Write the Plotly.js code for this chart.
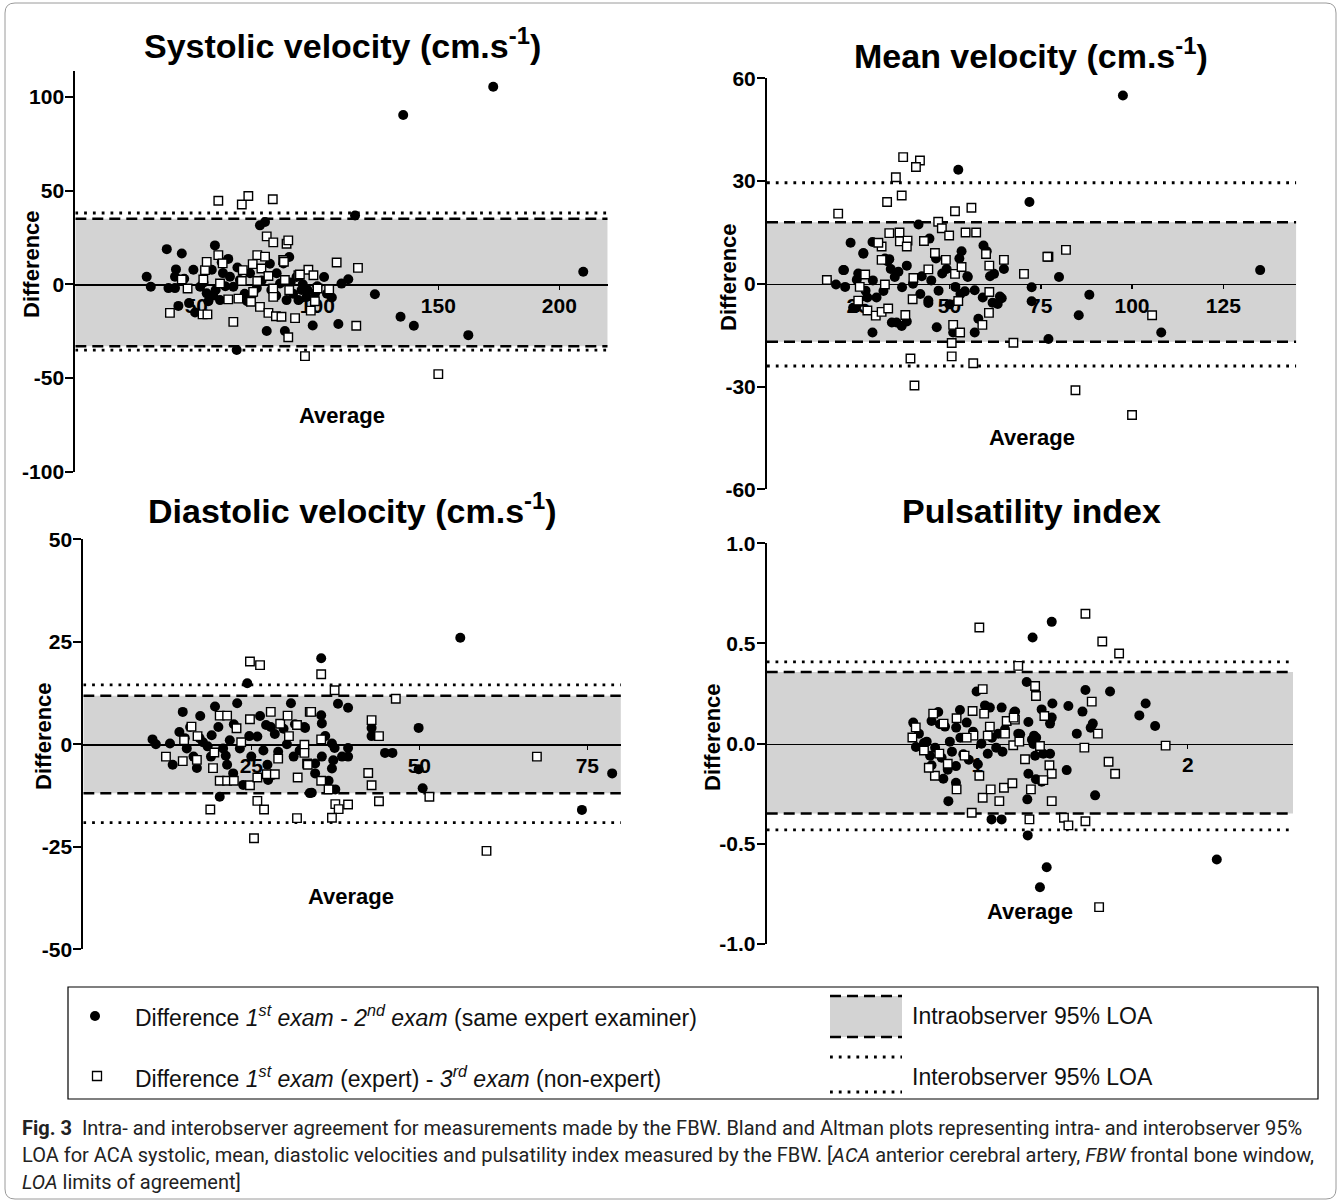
<!DOCTYPE html>
<html><head><meta charset="utf-8">
<script src="https://cdn.plot.ly/plotly-3.0.1.min.js"></script>
<style>html,body{margin:0;padding:0;background:#fff;}#chart{width:1340px;height:1202px;}</style>
</head><body><div id="chart"></div>
<script>
// ---------------- DATA ----------------
// Systolic velocity: [average, difference]
const sysSame = [[29.5,4.1],[31.2,-1.3],[37.8,18.8],[38.5,-2],[41.2,4.1],[41.2,-2],[41.6,8],[42.6,-11.5],[44,16.5],[48.8,7.8],[49.5,-15],[51.6,-1.3],[57.7,20.8],[54.3,-4.8],[56.4,7.8],[59.8,-8.4],[60.5,11.8],[63.2,13.6],[63.9,4.1],[66.7,-35],[65.3,-1.3],[68,2.3],[72.2,5.9],[73.5,-4.8],[76.3,31.5],[78.4,33.3],[79.1,-24.9],[80.4,11],[83.2,5.9],[84.6,0.5],[86,11.2],[86.6,-24.9],[87.3,-8.4],[88.4,14.6],[91.4,3.9],[92.2,-8.4],[93.5,-3],[95.6,-6.7],[98.1,-22],[99.1,-4.8],[102.8,3.9],[112.8,2.7],[110,0.4],[108.7,-21.2],[115.6,36.8],[123.8,-5.3],[134.4,-17.3],[139.9,-22.1],[162.4,-27.1],[135.5,90.4],[172.7,105.5],[209.9,6.7],[55,-9],[57,-6],[58,-3],[62,-1],[70,-5],[75,-2],[77,2],[81,-3],[83,-6],[89,1],[90,-5],[94,0],[96,-3],[100,-1],[104,-5],[106,-7],[47,-10],[45,3],[53,1],[61,6],[67,9],[71,-9]];
const sysOther = [[59.1,44.6],[68.8,42.6],[71.5,47.2],[81.6,45.4],[79.1,25.6],[81.8,22.4],[87.3,21.7],[88,23.5],[39.1,-15.2],[52.6,-16],[54.6,-16],[44,2.6],[46.4,-2.2],[52.9,2.6],[53.6,7.6],[54.3,12],[59.1,15.6],[60.9,11.2],[59.8,0.5],[63.2,-8],[65.3,-20],[67.4,-7.6],[68.8,1.8],[69.2,7.6],[72.6,-9.3],[73.3,10.8],[73.5,-4],[75.2,15.6],[75.2,1.8],[76.3,-12],[76.9,8.5],[78.4,14.8],[79.8,4.5],[79.8,-15.2],[81.8,-2.2],[81.8,-6.7],[82.9,-17],[85.2,-17.3],[85.9,13],[86.6,2.3],[88,-28.2],[88.4,-3.1],[90.8,-18],[92.2,4.9],[94.9,-38.3],[96.3,7.8],[97.3,-14],[98.4,4.9],[99,-9],[100.1,-2.2],[108,11.7],[116.8,8.8],[116.1,-22.1],[104.9,-2.7],[150,-47.9],[92.8,5.3],[86.2,12.1]];
const sysIntraLOA = [-33, 35];
const sysInterLOA = [-35.1, 38.1];

// Mean velocity
const meanSame = [[16.4,1.1],[18.9,-0.2],[21.1,4],[21.4,-0.9],[22.9,12],[24.6,1.2],[24.4,-7],[26.4,8.8],[28.9,-14.2],[28.9,12.2],[32.3,7.4],[33.5,7.2],[33.9,4.3],[34.2,-11.3],[35.5,-11.3],[36.9,-12.3],[38.3,-11],[38.3,5.3],[41.5,17.3],[44.5,13.2],[42.4,2.2],[44.2,-4.9],[46.5,-12.7],[46.3,7.4],[49.2,4.3],[51,-14.2],[52.4,33.3],[52.7,7.4],[53.3,9.5],[54.9,2.2],[56.9,-14.2],[57.9,-10.2],[59.3,11.2],[60.2,9.5],[61.1,2.2],[62.2,2.9],[63.8,-3.7],[63.2,-5.9],[64.9,4.3],[56.9,-1.9],[97.5,55],[71.9,23.9],[72.5,-1],[72.5,-5.1],[64.3,-4.2],[80,2],[88.3,-3.2],[85.4,-9.2],[77.1,-16.1],[108,-14.2],[135.1,4],[26.4,9],[20.9,4],[33,6.6],[23.6,-7],[31.9,-2.1],[44.2,-5.6],[55,2],[54.2,-2.2],[51.6,-0.9],[59.1,-4],[61.8,-5.5],[25,3],[27,-2],[29,1],[30,-4],[35,2],[37,-1],[40,0],[42,-3],[45,1],[47,-2],[48,3],[50,-6],[53,-3],[27.5,-4],[36,3.5]];
const meanOther = [[19.5,20.5],[37.3,37],[41.9,36],[40.8,34.1],[35.3,31.1],[36.9,25.8],[32.9,23.9],[33.5,14.8],[36.3,15],[36.4,12.4],[38.5,12.6],[38.3,10.9],[31.4,10.9],[30.5,12],[31.4,7],[46.9,18.1],[47.9,16.2],[49.9,14.1],[51.5,21.2],[56,22.2],[54.4,15],[57.3,15],[46,9],[49,7],[60.9,5.3],[60,8.7],[64.9,7],[25,-4.9],[27.5,-7.8],[29.8,-9.3],[31.4,-8.2],[33.2,-7.2],[37.9,-9.1],[39.3,-21.8],[40.4,-29.7],[39.9,-4.5],[50.6,-17.3],[50.6,-21.2],[51,-12],[52.9,-14.2],[56.5,-23.2],[59,-12],[60.8,-8.5],[60.9,-2.4],[52.4,-5],[51.5,2.9],[32.3,-0.2],[26.9,2.7],[25.4,-0.9],[67.5,-17.2],[70.4,2.9],[77.1,7.9],[81.9,9.9],[105.5,-9.2],[84.5,-31.1],[100,-38.3],[76.8,7.9],[44.2,4.2],[53.3,4.9],[40.1,1.7],[16.4,1.1],[43,12.5]];
const meanIntraLOA = [-16.9, 18.0];
const meanInterLOA = [-24, 29.5];

// Diastolic velocity
const diaSame = [[10.3,1.2],[10.8,0],[12.9,0.2],[13.3,-5],[14.3,3],[14.8,7.9],[15.1,1.5],[15.4,-1],[15.9,4.2],[16.4,-3],[16.9,-5.8],[17.4,6.9],[17.3,1.5],[18.5,-0.5],[19.1,2.2],[19.6,9.2],[20.1,4.2],[20.3,-12.8],[20.8,-1],[21.2,-2.8],[21.4,-5],[22.3,-7.1],[22.4,4.9],[22.9,10],[23.3,-1],[23.8,-9.9],[24.4,14.9],[25,-3],[25.9,1.9],[26.3,6.9],[27.2,4.7],[27.4,-5],[27.5,-8.7],[27.9,4.2],[28.2,-7.5],[29,-1.8],[29.8,3.8],[30.3,0],[30.9,10],[31.3,-3],[31.5,4.9],[32.2,-1.5],[32.9,4.2],[33.7,-11.9],[34.5,-4.7],[35.4,21],[56.1,26],[37.9,9.9],[39.4,8.9],[35.4,7.1],[35.5,5.1],[33,4],[36,2],[37,0.2],[37.4,-0.9],[39.4,-0.9],[39.4,-3],[38.5,-3],[37.2,-3.9],[37,-5.9],[35.5,-3],[34.5,-7.1],[36.5,-8.9],[37.5,-11],[34,-11.8],[42.9,4],[42.9,2],[44.9,-2.1],[46,-2.1],[49.9,4],[49.9,-6.1],[50.5,-10.7],[74.2,-16],[78.7,-7.1],[24.7,2],[26.8,-1.5],[28.5,2.5],[19,-3],[17.8,0.5],[21.8,1]];
const diaOther = [[12.3,-3],[14.8,-4.1],[16.1,4.3],[16.9,-3.8],[18.9,-15.9],[19.3,-5.8],[20.3,7],[21.4,7],[20.3,-8.9],[21.4,-8.9],[22.4,-8.9],[22.8,3.9],[24.8,20.2],[26.3,19.3],[24.8,6.1],[24.8,-10],[25.9,-13.8],[26.9,-15.9],[25.4,-22.9],[25.9,-8.1],[27.3,-7.3],[28.5,-7.3],[27.9,7.9],[29.3,5],[30.4,7],[30.6,2],[31.8,4.7],[31.9,-8.1],[32.9,-0.1],[32.9,-2.1],[33.3,-4.7],[33.7,7.9],[31.8,-18],[35.4,17.1],[37.4,13.2],[33.9,7.9],[33.4,-5],[35.4,1.2],[35.4,-8.9],[36.5,-11],[37.5,-14.6],[38,-15.8],[39.4,-14.7],[37,-17.9],[42.9,5.9],[44,2],[42.4,-7],[42.9,-10],[44,-13.9],[46.5,11.1],[51.5,-12.8],[67.5,-3],[60,-26],[15,1],[17,2],[19.5,-2],[23.5,0.5],[29,-3.5]];
const diaIntraLOA = [-11.95, 11.85];
const diaInterLOA = [-19.1, 14.5];

// Pulsatility index
const piSame = [[0.696,0.105],[0.709,-0.017],[0.723,0.05],[0.747,0.003],[0.776,-0.06],[0.783,-0.108],[0.783,0.113],[0.815,0.158],[0.823,0.097],[0.847,0.085],[0.839,-0.175],[0.831,-0.07],[0.863,-0.287],[0.899,-0.195],[0.899,-0.112],[0.918,0.168],[0.934,-0.053],[0.95,0.105],[0.997,0.26],[1.003,-0.103],[1.037,0.191],[1.06,0.18],[1.068,-0.378],[1.176,0.158],[1.195,0.05],[1.354,0.608],[1.263,0.53],[1.235,0.308],[1.116,0.18],[1.18,0.16],[1.132,0.072],[1.243,0.108],[1.204,0.047],[1.267,-0.002],[1.275,-0.06],[1.314,-0.05],[1.346,-0.05],[1.306,0.171],[1.357,0.2],[1.354,0.13],[1.346,0.1],[1.243,-0.15],[1.279,-0.178],[1.306,-0.19],[1.238,-0.278],[1.425,-0.132],[1.473,0.05],[1.5,0.16],[1.514,0.268],[1.539,0.079],[1.549,0.1],[1.56,-0.258],[1.77,0.141],[1.8,0.2],[1.845,0.088],[1.24,-0.458],[1.33,-0.617],[1.298,-0.717],[2.138,-0.578],[1.116,-0.378],[1.433,0.188],[1.631,0.26],[1.27,0.04],[0.76,0.01],[0.8,-0.02],[0.87,0.01],[0.88,-0.04],[0.92,0.03],[0.96,-0.08],[0.98,0.06],[1.02,0],[1.05,-0.05],[1.07,0.03],[1.09,-0.02],[1.1,0.05],[1.12,-0.04],[1.26,0.02],[1.28,0.03],[0.86,-0.13],[0.9,0.08]];
const piOther = [[0.692,0.031],[0.708,0.081],[0.747,-0.034],[0.791,0.15],[0.799,-0.16],[0.902,0.127],[0.902,-0.228],[0.974,-0.345],[0.978,0.163],[0.982,0.04],[1.01,0.58],[1.026,0.272],[1.01,-0.16],[1.026,-0.27],[1.033,0.15],[1.064,-0.228],[1.06,0.085],[1.105,-0.287],[1.127,-0.22],[1.14,0.113],[1.167,-0.198],[1.171,-0.008],[1.179,0.12],[1.195,0.388],[1.275,0.288],[1.279,0.238],[1.319,0.138],[1.173,0.13],[1.132,0.05],[1.227,-0.078],[1.298,-0.012],[1.343,-0.108],[1.354,-0.15],[1.314,-0.182],[1.255,-0.228],[1.354,-0.287],[1.248,-0.378],[1.412,-0.37],[1.433,-0.408],[1.514,-0.387],[1.509,-0.02],[1.544,0.21],[1.573,0.05],[1.624,-0.09],[1.655,-0.15],[1.514,0.648],[1.594,0.51],[1.674,0.45],[1.895,-0.01],[1.579,-0.816],[0.82,-0.05],[0.86,-0.1],[0.94,-0.06],[0.95,0.03],[1.05,0.04],[0.84,0.1],[0.77,-0.12],[1.2,0.01]];
const piIntraLOA = [-0.349, 0.358];
const piInterLOA = [-0.43, 0.408];

// Tick values / labels
const sysXTicks = [50, 100, 150, 200];
const sysYTicks = [-100, -50, 0, 50, 100];
const sysYLabels = ['-100', '-50', '0', '50', '100'];
const meanXTicks = [25, 50, 75, 100, 125];
const meanYTicks = [-60, -30, 0, 30, 60];
const meanYLabels = ['-60', '-30', '0', '30', '60'];
const diaXTicks = [25, 50, 75];
const diaYTicks = [-50, -25, 0, 25, 50];
const diaYLabels = ['-50', '-25', '0', '25', '50'];
const piXTicks = [1, 2];
const piYTicks = [-1, -0.5, 0, 0.5, 1];
const piYLabels = ['-1.0', '-0.5', '0.0', '0.5', '1.0'];

const titles = ['Systolic velocity (cm.s<sup>-1</sup>)', 'Mean velocity (cm.s<sup>-1</sup>)', 'Diastolic velocity (cm.s<sup>-1</sup>)', 'Pulsatility index'];
const yTitle = 'Difference';
const xTitle = 'Average';
const legendSame = 'Difference <i>1<sup>st</sup> exam</i> - <i>2<sup>nd</sup> exam</i> (same expert examiner)';
const legendOther = 'Difference <i>1<sup>st</sup> exam</i> (expert) - <i>3<sup>rd</sup> exam</i> (non-expert)';
const legendIntra = 'Intraobserver 95% LOA';
const legendInter = 'Interobserver 95% LOA';
const caption = [
  '<b>Fig. 3</b>  Intra- and interobserver agreement for measurements made by the FBW. Bland and Altman plots representing intra- and interobserver 95%',
  'LOA for ACA systolic, mean, diastolic velocities and pulsatility index measured by the FBW. [<i>ACA</i> anterior cerebral artery, <i>FBW</i> frontal bone window,',
  '<i>LOA</i> limits of agreement]'
];

// ---------------- LAYOUT ----------------
const W = 1340, H = 1202;
const FONT = '"Liberation Sans", Arial, Helvetica, sans-serif';
const fx = p => p / W, fy = p => 1 - p / H;

const panels = [
  {same: sysSame, other: sysOther, intra: sysIntraLOA, inter: sysInterLOA, xt: sysXTicks, yt: sysYTicks, yl: sysYLabels,
   xd: [75.3, 607.7], yd: [471.7, 70.8], xr: [0, 220], yr: [-100, 114],
   title: [342, 44], ytitle: [31, 264], xtitle: [342, 415]},
  {same: meanSame, other: meanOther, intra: meanIntraLOA, inter: meanInterLOA, xt: meanXTicks, yt: meanYTicks, yl: meanYLabels,
   xd: [767, 1296.3], yd: [489.3, 78.3], xr: [0, 145], yr: [-60, 60],
   title: [1031, 54], ytitle: [728, 277], xtitle: [1032, 437]},
  {same: diaSame, other: diaOther, intra: diaIntraLOA, inter: diaInterLOA, xt: diaXTicks, yt: diaYTicks, yl: diaYLabels,
   xd: [83.3, 620.9], yd: [949.3, 539.3], xr: [0, 80], yr: [-50, 50],
   title: [352, 508], ytitle: [43, 736], xtitle: [351, 896]},
  {same: piSame, other: piOther, intra: piIntraLOA, inter: piInterLOA, xt: piXTicks, yt: piYTicks, yl: piYLabels,
   xd: [766.7, 1293], yd: [944, 543.3], xr: [0, 2.5], yr: [-1, 1],
   title: [1031, 511], ytitle: [712, 737], xtitle: [1030, 911]}
];

const traces = [], shapes = [], annotations = [];
const layout = {
  width: W, height: H, margin: {l: 0, r: 0, t: 0, b: 0},
  paper_bgcolor: '#fff', plot_bgcolor: 'rgba(0,0,0,0)', showlegend: false,
  font: {family: FONT, color: '#000'}
};
const tickFont = {family: FONT, size: 21, color: '#000', weight: 'bold'};

panels.forEach((p, i) => {
  const n = i === 0 ? '' : String(i + 1);
  const xa = 'x' + n, ya = 'y' + n;
  const yDom = [fy(p.yd[0]), fy(p.yd[1])];
  const zeroPos = yDom[0] + (0 - p.yr[0]) / (p.yr[1] - p.yr[0]) * (yDom[1] - yDom[0]);
  layout['xaxis' + n] = {
    domain: [fx(p.xd[0]), fx(p.xd[1])], range: p.xr, anchor: 'free', position: zeroPos,
    showline: true, linecolor: '#000', linewidth: 1.5, ticks: 'outside', ticklen: 4, tickwidth: 1.5, tickcolor: '#000',
    tickmode: 'array', tickvals: p.xt, ticktext: p.xt.map(String), tickfont: tickFont, ticklabelstandoff: -2,
    showgrid: false, zeroline: false, fixedrange: true, layer: 'below traces'
  };
  layout['yaxis' + n] = {
    domain: yDom, range: p.yr, anchor: xa,
    showline: true, linecolor: '#000', linewidth: 2, ticks: 'outside', ticklen: 8, tickwidth: 2, tickcolor: '#000',
    tickmode: 'array', tickvals: p.yt, ticktext: p.yl, tickfont: tickFont, ticklabelstandoff: -3,
    showgrid: false, zeroline: false, fixedrange: true
  };
  // grey intraobserver band
  shapes.push({type: 'rect', xref: xa, yref: ya, x0: p.xr[0], x1: p.xr[1], y0: p.intra[0], y1: p.intra[1],
    fillcolor: '#d3d3d3', line: {width: 0}, layer: 'below'});
  p.intra.forEach(v => shapes.push({type: 'line', xref: xa, yref: ya, x0: p.xr[0], x1: p.xr[1], y0: v, y1: v,
    line: {color: '#000', width: 2.5, dash: '11px,6px'}, layer: 'below'}));
  p.inter.forEach(v => shapes.push({type: 'line', xref: xa, yref: ya, x0: p.xr[0], x1: p.xr[1], y0: v, y1: v,
    line: {color: '#000', width: 2.8, dash: '2.8px,6px'}, layer: 'below'}));
  traces.push({type: 'scatter', mode: 'markers', xaxis: xa, yaxis: ya, name: 'same',
    x: p.same.map(d => d[0]), y: p.same.map(d => d[1]),
    marker: {symbol: 'circle', size: 10, color: '#000', line: {width: 0}}, hoverinfo: 'x+y'});
  traces.push({type: 'scatter', mode: 'markers', xaxis: xa, yaxis: ya, name: 'other',
    x: p.other.map(d => d[0]), y: p.other.map(d => d[1]),
    marker: {symbol: 'square', size: 8.5, color: '#fff', line: {width: 1.4, color: '#000'}}, hoverinfo: 'x+y'});
  annotations.push({xref: 'paper', yref: 'paper', x: fx(p.title[0]), y: fy(p.title[1]), xanchor: 'center', yanchor: 'middle',
    text: '<b>' + titles[i] + '</b>', showarrow: false, font: {family: FONT, size: 34, color: '#000'}});
  annotations.push({xref: 'paper', yref: 'paper', x: fx(p.ytitle[0]), y: fy(p.ytitle[1]), xanchor: 'center', yanchor: 'middle',
    text: '<b>' + yTitle + '</b>', textangle: -90, showarrow: false, font: {family: FONT, size: 22, color: '#000'}});
  annotations.push({xref: 'paper', yref: 'paper', x: fx(p.xtitle[0]), y: fy(p.xtitle[1]), xanchor: 'center', yanchor: 'middle',
    text: '<b>' + xTitle + '</b>', showarrow: false, font: {family: FONT, size: 22, color: '#000'}});
});

// ----- Legend box -----
shapes.push({type: 'rect', xref: 'paper', yref: 'paper', x0: fx(68), x1: fx(1318), y0: fy(987), y1: fy(1099),
  line: {color: '#000', width: 1.2}, fillcolor: 'rgba(0,0,0,0)'});
shapes.push({type: 'circle', xref: 'paper', yref: 'paper', xsizemode: 'pixel', ysizemode: 'pixel',
  xanchor: fx(95), yanchor: fy(1016), x0: -5, x1: 5, y0: -5, y1: 5, fillcolor: '#000', line: {width: 0}});
shapes.push({type: 'rect', xref: 'paper', yref: 'paper', xsizemode: 'pixel', ysizemode: 'pixel',
  xanchor: fx(97), yanchor: fy(1076), x0: -4.5, x1: 4.5, y0: -4.5, y1: 4.5, fillcolor: '#fff', line: {width: 1.3, color: '#000'}});
shapes.push({type: 'rect', xref: 'paper', yref: 'paper', x0: fx(830), x1: fx(902), y0: fy(1037), y1: fy(996),
  fillcolor: '#d3d3d3', line: {width: 0}});
[996, 1037].forEach(v => shapes.push({type: 'line', xref: 'paper', yref: 'paper', x0: fx(830), x1: fx(902), y0: fy(v), y1: fy(v),
  line: {color: '#000', width: 2.5, dash: '11px,6px'}}));
[1057, 1092].forEach(v => shapes.push({type: 'line', xref: 'paper', yref: 'paper', x0: fx(830), x1: fx(902), y0: fy(v), y1: fy(v),
  line: {color: '#000', width: 2.8, dash: '2.8px,6px'}}));
const legFont = {family: FONT, size: 23, color: '#111'};
[[133, 1016, legendSame], [133, 1077, legendOther], [910, 1016, legendIntra], [910, 1077, legendInter]].forEach(a =>
  annotations.push({xref: 'paper', yref: 'paper', x: fx(a[0]), y: fy(a[1]), xanchor: 'left', yanchor: 'middle',
    text: a[2], showarrow: false, font: legFont}));

// ----- Caption -----
const capFont = {family: '"Liberation Sans Narrow", Roboto, sans-serif', size: 20, color: '#222'};
[1128, 1155, 1182].forEach((y, k) => annotations.push({xref: 'paper', yref: 'paper', x: fx(20), y: fy(y), xanchor: 'left', yanchor: 'middle',
  text: caption[k], showarrow: false, font: capFont}));

// ----- Outer rounded frame -----
(function () {
  const l = 5, r = 1336, t = 3, b = 1199, rad = 10;
  const P = (x, y) => fx(x) + ',' + fy(y);
  const path = 'M' + P(l + rad, t) + ' L' + P(r - rad, t) + ' Q' + P(r, t) + ' ' + P(r, t + rad) +
    ' L' + P(r, b - rad) + ' Q' + P(r, b) + ' ' + P(r - rad, b) + ' L' + P(l + rad, b) + ' Q' + P(l, b) + ' ' + P(l, b - rad) +
    ' L' + P(l, t + rad) + ' Q' + P(l, t) + ' ' + P(l + rad, t) + ' Z';
  shapes.push({type: 'path', xref: 'paper', yref: 'paper', path: path, line: {color: '#9a9a9a', width: 1}});
})();

layout.shapes = shapes;
layout.annotations = annotations;
Plotly.newPlot('chart', traces, layout, {displayModeBar: false, staticPlot: true});
</script>
</body></html>
